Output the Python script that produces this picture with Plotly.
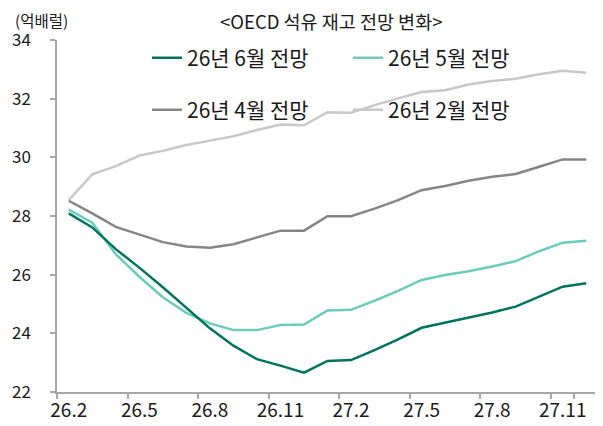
import plotly.graph_objects as go

# monthly forecast path of OECD oil stocks (억배럴)
months = ["26.2", "26.3", "26.4", "26.5", "26.6", "26.7", "26.8", "26.9", "26.10", "26.11", "26.12",
          "27.1", "27.2", "27.3", "27.4", "27.5", "27.6", "27.7", "27.8", "27.9", "27.10", "27.11", "27.12"]

jun_fcst = [28.09, 27.61, 26.87, 26.24, 25.57, 24.87, 24.17, 23.58, 23.12, 22.90, 22.66,
            23.06, 23.09, 23.43, 23.79, 24.19, 24.36, 24.53, 24.71, 24.91, 25.25, 25.59, 25.71]
may_fcst = [28.22, 27.77, 26.70, 25.93, 25.23, 24.70, 24.34, 24.11, 24.11, 24.28, 24.30,
            24.78, 24.80, 25.11, 25.45, 25.82, 25.99, 26.12, 26.28, 26.46, 26.80, 27.09, 27.16]
apr_fcst = [28.52, 28.09, 27.63, 27.37, 27.11, 26.96, 26.92, 27.04, 27.26, 27.50, 27.50,
            27.99, 27.99, 28.25, 28.54, 28.88, 29.02, 29.20, 29.34, 29.43, 29.68, 29.93, 29.93]
feb_fcst = [28.54, 29.42, 29.70, 30.06, 30.22, 30.42, 30.57, 30.72, 30.93, 31.12, 31.09,
            31.54, 31.52, 31.78, 32.01, 32.23, 32.29, 32.48, 32.60, 32.68, 32.83, 32.95, 32.88]

xticks = ["26.2", "26.5", "26.8", "26.11", "27.2", "27.5", "27.8", "27.11"]

FONT = "Noto Sans CJK KR"
# page body has an 8px margin, so the figure is a bit smaller than the window
OFF = 8
W, H = 603 - OFF, 426 - OFF
L, R, T, B = 49, 5, 32, 34
PW, PH = W - L - R, H - T - B


def px_x(x):
    # page pixel -> paper fraction
    return (x - OFF - L) / PW


def px_y(y):
    return (H - B - (y - OFF)) / PH


fig = go.Figure()
# back to front
fig.add_trace(go.Scatter(x=months, y=feb_fcst, mode="lines", name="26년 2월 전망",
                         line=dict(color="#c8c8c8", width=2.5), legend="legend2", legendrank=2))
fig.add_trace(go.Scatter(x=months, y=apr_fcst, mode="lines", name="26년 4월 전망",
                         line=dict(color="#858585", width=2.5), legend="legend2", legendrank=1))
fig.add_trace(go.Scatter(x=months, y=may_fcst, mode="lines", name="26년 5월 전망",
                         line=dict(color="#6ccbb9", width=2.5), legend="legend", legendrank=2))
fig.add_trace(go.Scatter(x=months, y=jun_fcst, mode="lines", name="26년 6월 전망",
                         line=dict(color="#00725e", width=2.5), legend="legend", legendrank=1))

leg_common = dict(orientation="h", xanchor="left", yanchor="middle", bgcolor="rgba(0,0,0,0)",
                  entrywidth=156, entrywidthmode="pixels",
                  font=dict(family=FONT, size=21, color="#1a1a1a"))

fig.update_layout(
    width=W, height=H,
    margin=dict(l=L, r=R, t=T, b=B, autoexpand=False),
    paper_bgcolor="white", plot_bgcolor="white",
    font=dict(family=FONT, size=17, color="#1a1a1a"),
    legend=dict(x=px_x(147), y=px_y(58), **leg_common),
    legend2=dict(x=px_x(147), y=px_y(110), **leg_common),
    xaxis=dict(type="category", categoryorder="array", categoryarray=months,
               range=[-0.5, len(months) - 0.5], automargin=False,
               tickmode="array", tickvals=xticks, ticktext=xticks, tickson="boundaries",
               tickangle=0, tickfont=dict(size=19),
               showline=True, linecolor="#a6a6a6", linewidth=1.5,
               ticks="outside", ticklen=5, tickcolor="#a6a6a6", tickwidth=1.5,
               showgrid=False, zeroline=False, fixedrange=True),
    yaxis=dict(range=[22, 34], dtick=2, tick0=22, tickfont=dict(size=17),
               ticklabelstandoff=16, automargin=False,
               showline=True, linecolor="#a6a6a6", linewidth=1.5,
               ticks="outside", ticklen=5, tickcolor="#a6a6a6", tickwidth=1.5,
               showgrid=False, zeroline=False, fixedrange=True),
    annotations=[
        dict(text="(억배럴)", x=px_x(14), y=px_y(8), xref="paper", yref="paper",
             xanchor="left", yanchor="top", showarrow=False, borderpad=0,
             font=dict(family=FONT, size=15.5, color="#1a1a1a")),
        dict(text="<OECD 석유 재고 전망 변화>", x=px_x(331), y=px_y(21), xref="paper", yref="paper",
             xanchor="center", yanchor="middle", showarrow=False,
             font=dict(family=FONT, size=18.5, color="#1a1a1a")),
    ],
)

fig.write_html("out.html")
